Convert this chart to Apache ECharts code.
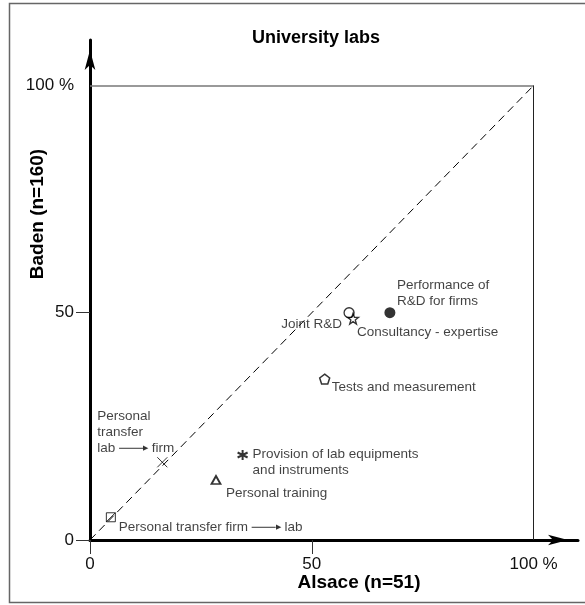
<!DOCTYPE html>
<html>
<head>
<meta charset="utf-8">
<script src="https://cdn.jsdelivr.net/npm/echarts@6/dist/echarts.min.js"></script>
<style>
html,body{margin:0;padding:0;background:#fff;}
#chart{width:585px;height:605px;}
</style>
</head>
<body>
<div id="chart"></div>
<script>
// ---- Data ----
const activities = [
  "Performance of\nR&D for firms",
  "Joint R&D",
  "Consultancy - expertise",
  "Tests and measurement",
  "Provision of lab equipments\nand instruments",
  "Personal training",
  "Personal\ntransfer\nlab → firm",
  "Personal transfer firm → lab"
];
const alsace = [67.6, 58.4, 59.3, 52.9, 34.4, 28.4, 16.3, 4.7];
const baden  = [50.0, 50.0, 48.7, 35.4, 18.7, 13.2, 17.1, 5.0];
const tickValues = [0, 50, 100];
const tickLabels = ["0", "50", "100 %"];
const titleText = "University labs";
const xName = "Alsace (n=51)";
const yName = "Baden (n=160)";

// ---- Styles (not data) ----
const FONT = "'Liberation Sans', Arial, sans-serif";
const STAR = 'path://M10 0 L12.35 6.76 L19.51 6.91 L13.8 11.24 L15.88 18.09 L10 14 L4.12 18.09 L6.2 11.24 L0.49 6.91 L7.65 6.76 Z';
const PENT = 'path://M10 0 L19.51 6.91 L15.88 18.09 L4.12 18.09 L0.49 6.91 Z';
const AST = 'path://M5 0 L5 10 M0.67 2.5 L9.33 7.5 M0.67 7.5 L9.33 2.5';
const CROSS = 'path://M0 0 L10 10 M0 10 L10 0';
const SQD = 'path://M0 0 L10 0 L10 10 L0 10 Z M0 10 L10 0';
const markStyles = [
  {symbol: 'circle', size: 11, fill: '#000', bw: 0},
  {symbol: 'circle', size: 10, fill: 'none', bw: 1.3},
  {symbol: STAR, size: 11, fill: 'none', bw: 1.3},
  {symbol: PENT, size: 10, fill: 'none', bw: 1.5},
  {symbol: AST, size: 10, fill: 'none', bw: 2},
  {symbol: 'triangle', size: [9, 8], fill: 'none', bw: 1.8},
  {symbol: CROSS, size: 10, fill: 'none', bw: 1},
  {symbol: SQD, size: 9, fill: 'none', bw: 1}
];
const labelStyles = [
  {align: 'left', offset: [7, -19]},
  {align: 'right', offset: [-7, 12]},
  {align: 'left', offset: [4, 14]},
  {align: 'left', offset: [7, 8]},
  {align: 'left', offset: [10, 7]},
  {align: 'left', offset: [10, 13]},
  {align: 'left', offset: [-65, -30]},
  {align: 'left', offset: [8, 10]}
];

const points = activities.map((name, i) => ({
  name: name,
  value: [alsace[i], baden[i]],
  symbol: markStyles[i].symbol,
  symbolSize: markStyles[i].size,
  itemStyle: {color: markStyles[i].fill, borderColor: '#000', borderWidth: markStyles[i].bw},
  label: {
    show: true,
    position: 'inside',
    align: labelStyles[i].align,
    verticalAlign: 'middle',
    offset: labelStyles[i].offset
  }
}));

const chart = echarts.init(document.getElementById('chart'), null, {renderer: 'canvas'});
const axisCommon = {
  type: 'value', min: 0, max: 110,
  splitLine: {show: false},
  axisLine: {show: true, lineStyle: {color: '#000', width: 3}, symbol: ['none', 'arrow'], symbolSize: [8, 20], symbolOffset: [0, -10]},
  axisTick: {show: true, customValues: [0, 50], length: 14, lineStyle: {color: '#333', width: 1}},
  axisLabel: {
    customValues: tickValues,
    formatter: v => tickLabels[tickValues.indexOf(v)],
    fontFamily: FONT, fontSize: 17, color: '#111', margin: 16
  }
};
chart.setOption({
  animation: false,
  backgroundColor: '#fff',
  grid: {left: 90, right: 7, top: 40, bottom: 65, outerBoundsMode: 'none', containLabel: false},
  xAxis: Object.assign({}, axisCommon),
  yAxis: Object.assign({}, axisCommon),
  graphic: [
    {type: 'rect', shape: {x: 9.5, y: 3.5, width: 600, height: 599}, style: {fill: 'none', stroke: '#666', lineWidth: 1.5}, z: -1},
    {type: 'text', x: 316, y: 38, style: {text: titleText, font: 'bold 18px ' + FONT, fill: '#000', align: 'center', verticalAlign: 'middle'}},
    {type: 'text', x: 359, y: 583, style: {text: xName, font: 'bold 19px ' + FONT, fill: '#000', align: 'center', verticalAlign: 'middle'}},
    {type: 'text', x: 38, y: 214, rotation: Math.PI / 2, style: {text: yName, font: 'bold 19px ' + FONT, fill: '#000', align: 'center', verticalAlign: 'middle'}}
  ],
  series: [{
    type: 'scatter',
    data: points,
    label: {
      formatter: p => p.name.replace(' → ', ' {ln|}{ah|▶} '),
      fontFamily: FONT, fontSize: 13.5, color: '#111', lineHeight: 16,
      rich: {
        ln: {width: 24, height: 1, backgroundColor: '#000'},
        ah: {fontSize: 7, color: '#000', lineHeight: 16}
      }
    },
    markLine: {
      silent: true,
      symbol: ['none', 'none'],
      label: {show: false},
      animation: false,
      data: [
        [{coord: [0, 0], lineStyle: {color: '#000', width: 1, type: [8, 5]}}, {coord: [100, 100]}],
        [{coord: [0, 100], lineStyle: {color: '#777', width: 1.5, type: 'solid'}}, {coord: [100, 100]}],
        [{coord: [100, 0], lineStyle: {color: '#222', width: 1, type: 'solid'}}, {coord: [100, 100]}]
      ]
    }
  }]
});
</script>
</body>
</html>
